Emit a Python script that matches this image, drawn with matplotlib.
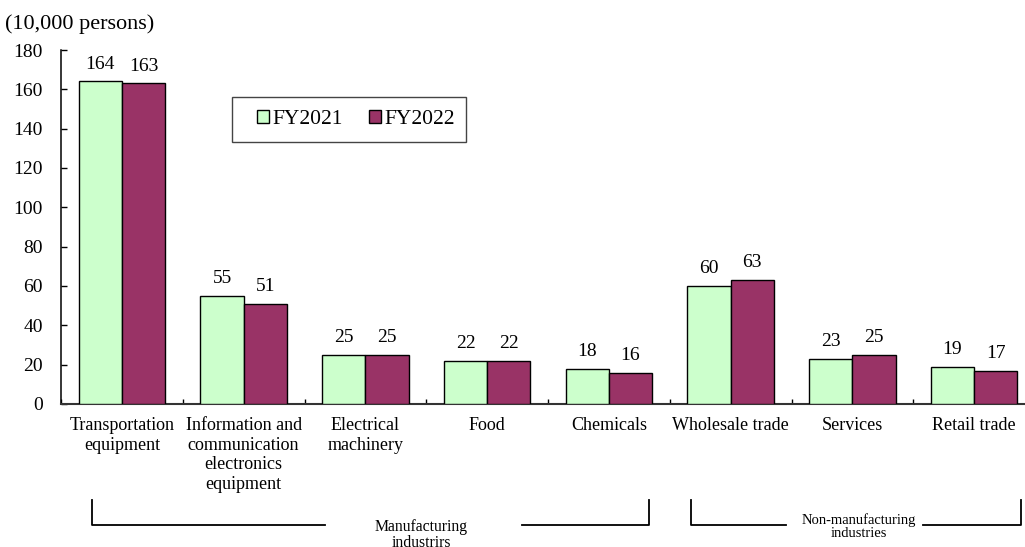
import matplotlib
matplotlib.use("Agg")
import matplotlib.pyplot as plt
from matplotlib.lines import Line2D
from matplotlib.patches import Rectangle
import numpy as np

plt.rcParams["font.family"] = ["Liberation Serif", "DejaVu Serif"]

# Data (10,000 persons)
categories = [
    "Transportation\nequipment",
    "Information and\ncommunication\nelectronics\nequipment",
    "Electrical\nmachinery",
    "Food",
    "Chemicals",
    "Wholesale trade",
    "Services",
    "Retail trade",
]
fy2021 = [164, 55, 25, 22, 18, 60, 23, 19]
fy2022 = [163, 51, 25, 22, 16, 63, 25, 17]
series_names = ["FY2021", "FY2022"]
yticks = [0, 20, 40, 60, 80, 100, 120, 140, 160, 180]

W, H = 1025, 547
fig = plt.figure(figsize=(W / 100, H / 100), dpi=100)


def fx(px):
    return px / W


def fy(py):
    return 1 - py / H


# Axes extends slightly past the right edge of the canvas
ax = fig.add_axes([fx(61), fy(404), fx(1035 - 61), (404 - 50) / H])

x = np.arange(len(categories))
bw = 0.355
green = "#CCFFCC"
purple = "#993366"
b1 = ax.bar(x - bw / 2, fy2021, bw, color=green, edgecolor="black", linewidth=1.0,
            label=series_names[0], zorder=3)
b2 = ax.bar(x + bw / 2, fy2022, bw, color=purple, edgecolor="black", linewidth=1.0,
            label=series_names[1], zorder=3)

for bars, vals in ((b1, fy2021), (b2, fy2022)):
    for rect, v in zip(bars, vals):
        ax.annotate(f"{v}", (rect.get_x() + rect.get_width() / 2, v),
                    xytext=(0, 9.2), textcoords="offset points",
                    ha="center", va="baseline", fontsize=14)

ax.set_xlim(-0.5, len(categories) - 0.5)
ax.set_ylim(0, 180)
ax.set_yticks(yticks)
ax.tick_params(axis="y", direction="in", length=4.5, width=1.0, labelsize=14, pad=13)

# Category boundary ticks (major) and centred labels (minor)
ax.set_xticks(np.arange(-0.5, len(categories) + 0.5, 1.0))
ax.set_xticklabels([])
ax.tick_params(axis="x", which="major", direction="in", length=3.5, width=1.0)
ax.set_xticks(x, minor=True)
ax.set_xticklabels(categories, minor=True, fontsize=13, linespacing=1.2)
ax.tick_params(axis="x", which="minor", length=0, pad=9.5)

for s in ("top", "right"):
    ax.spines[s].set_visible(False)
ax.spines["left"].set_linewidth(1.1)
ax.spines["bottom"].set_linewidth(1.5)
ax.spines["bottom"].set_color("#333333")

# Legend: boxed frame with the entries centred slightly right of middle
fig.add_artist(Rectangle((fx(232), fy(142)), fx(466 - 232), (142 - 97) / H,
                         transform=fig.transFigure, facecolor="white",
                         edgecolor="#444444", linewidth=1.0, zorder=4))
leg = fig.legend(handles=[b1, b2], labels=series_names, loc="center",
                 bbox_to_anchor=(fx(356), fy(119.5)), borderaxespad=0, ncol=2,
                 fontsize=15.5, frameon=False, handlelength=0.55,
                 handleheight=0.55, handletextpad=0.15, columnspacing=1.25,
                 borderpad=0.0)
leg.set_zorder(5)

fig.text(fx(5), fy(29), "(10,000 persons)", fontsize=16, ha="left", va="baseline")

# Group brackets under the category labels
lw = 1.3
brackets = [
    [(92, 500), (92, 525), (325, 525)],
    [(522, 525), (649, 525), (649, 500)],
    [(691, 500), (691, 525), (786, 525)],
    [(923, 525), (1021, 525), (1021, 500)],
]
for pts in brackets:
    xs = [fx(p[0]) for p in pts]
    ys = [fy(p[1]) for p in pts]
    fig.add_artist(Line2D(xs, ys, transform=fig.transFigure, color="black", lw=lw))

fig.text(fx(421), fy(547), "Manufacturing\nindustrirs", fontsize=11.3,
         ha="center", va="baseline", linespacing=1.0, multialignment="center")
fig.text(fx(859), fy(537), "Non-manufacturing\nindustries", fontsize=10.5,
         ha="center", va="baseline", linespacing=1.0, multialignment="center")

fig.savefig("out.png", dpi=100)
